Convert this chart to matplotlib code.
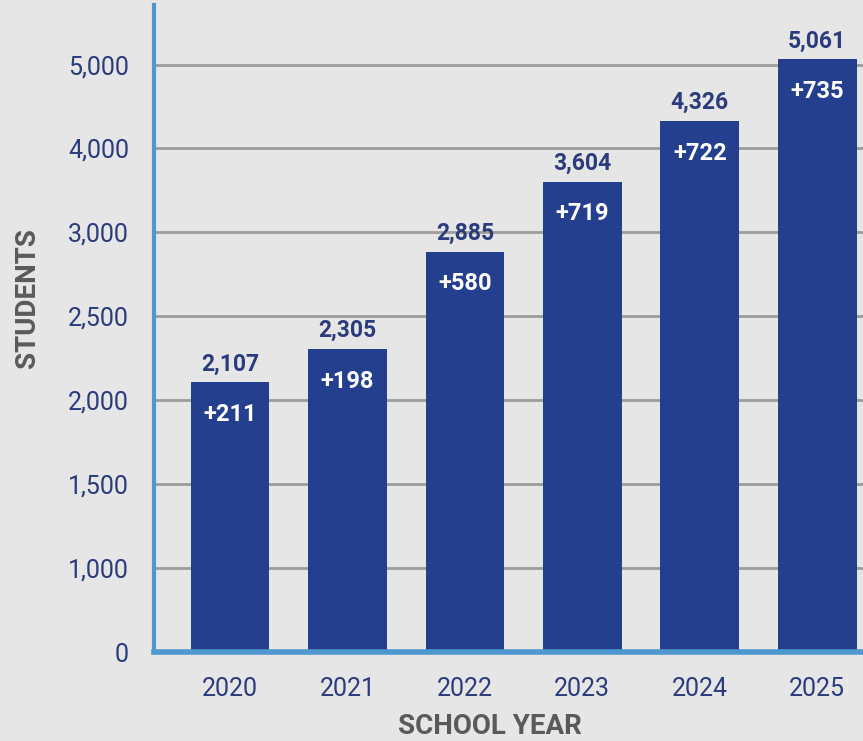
import numpy as np
import matplotlib.pyplot as plt
from matplotlib.scale import FuncScale
from matplotlib.ticker import FixedLocator, FuncFormatter

years = ["2020", "2021", "2022", "2023", "2024", "2025"]
students = [2107, 2305, 2885, 3604, 4326, 5061]
growth = ["+211", "+198", "+580", "+719", "+722", "+735"]
y_ticks = [0, 1000, 1500, 2000, 2500, 3000, 4000, 5000]

BG = "#e6e6e6"
BAR = "#243f8e"
NAVY = "#2b3b7c"
GREY = "#5a5a5a"
AXIS_BLUE = "#4f97cf"

# the original axis is not linear: every tick step gets the same height
knots = np.array(y_ticks + [6000], dtype=float)
steps = np.arange(len(knots), dtype=float)


def fwd(v):
    return np.interp(v, knots, steps)


def inv(s):
    return np.interp(s, steps, knots)


plt.rcParams["font.family"] = ["Roboto", "DejaVu Sans"]

fig = plt.figure(figsize=(8.63, 7.41), dpi=100, facecolor=BG)
ax = fig.add_axes([154 / 863, (741 - 652) / 741, 1 - 154 / 863, (652 - 5) / 741])
ax.set_facecolor(BG)
ax.set_yscale(FuncScale(ax, (fwd, inv)))

x = np.arange(len(years))
bars = ax.bar(x, students, width=0.67, color=BAR, zorder=3)

ax.set_xlim(-0.647, 5.39)
ax.set_ylim(0, 5710)

ax.yaxis.set_major_locator(FixedLocator(y_ticks))
ax.yaxis.set_major_formatter(FuncFormatter(lambda v, p: f"{int(v):,}"))
for t in y_ticks[1:]:
    ax.axhline(t, color="#9c9c9c", lw=2, zorder=1)

ax.set_xticks(x)
ax.set_xticklabels(years)
ax.tick_params(axis="both", length=0, labelsize=18, labelcolor=NAVY)
ax.tick_params(axis="x", pad=18)
ax.tick_params(axis="y", pad=18)

for s in ["top", "right"]:
    ax.spines[s].set_visible(False)
ax.spines["left"].set_color(AXIS_BLUE)
ax.spines["left"].set_linewidth(3)
ax.spines["bottom"].set_color(AXIS_BLUE)
ax.spines["bottom"].set_linewidth(4)
ax.spines["left"].set_zorder(4)
ax.spines["bottom"].set_zorder(4)

for xi, val, g in zip(x, students, growth):
    ax.annotate(f"{val:,}", (xi, val), xytext=(0, 5), textcoords="offset points",
                ha="center", va="bottom", fontsize=16.5, fontweight="bold",
                color=NAVY, zorder=5)
    ax.annotate(g, (xi, val), xytext=(0, -23), textcoords="offset points",
                ha="center", va="center", fontsize=17, fontweight="bold",
                color="white", zorder=5)

fig.text(27 / 863, 1 - 298 / 741, "STUDENTS", rotation=90, ha="center",
         va="center", fontsize=20, fontweight="bold", color=GREY)
fig.text(490 / 863, 1 - 726 / 741, "SCHOOL YEAR", ha="center", va="center",
         fontsize=20, fontweight="bold", color=GREY)

fig.savefig("out.png", dpi=100, facecolor=BG)
